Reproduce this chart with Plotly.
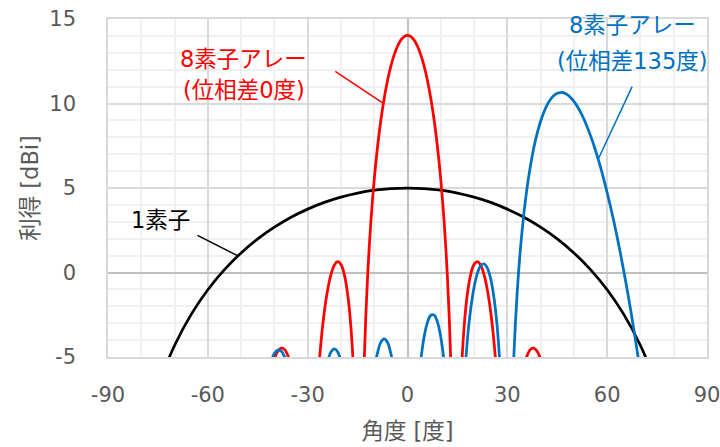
import plotly.graph_objects as go

# Angle grids (degrees)
angle_single = [-85, -80, -75, -70, -65, -60, -55, -50, -45, -40, -35, -30, -25, -20, -15, -10, -5,
                0, 5, 10, 15, 20, 25, 30, 35, 40, 45, 50, 55, 60, 65, 70, 75, 80, 85]
angle_array0 = list(range(-45, 46))
angle_array135 = list(range(-45, 76))

# Gain [dBi] of a single element
gain_single = [-16.19, -10.21, -6.74, -4.32, -2.48, -1.02, 0.17, 1.16, 1.99, 2.68, 3.27, 3.75, 4.15, 4.46, 4.70, 4.87, 4.97,
               5.00, 4.97, 4.87, 4.70, 4.46, 4.15, 3.75, 3.27, 2.68, 1.99, 1.16, 0.17, -1.02, -2.48, -4.32, -6.74, -10.21, -16.19]

# Gain [dBi] of the 8-element array, phase difference 0 deg (-45 .. 45)
gain_array0 = [
    -11.9, -9.72, -8.07, -6.79, -5.82, -5.12, -4.67, -4.48, -4.54, -4.89,
    -5.61, -6.77, -8.60, -11.5, -17.1, -30.0, -16.4, -10.2, -6.60, -4.13,
    -2.34, -1.04, -0.13, 0.43, 0.64, 0.48, -0.11, -1.26, -3.24, -6.82,
    -15.4, -15.6, -5.23, -0.29, 3.02, 5.49, 7.44, 9.02, 10.31, 11.36,
    12.21, 12.88, 13.39, 13.75, 13.96, 14.03, 13.96, 13.75, 13.39, 12.88,
    12.21, 11.36, 10.31, 9.02, 7.44, 5.49, 3.02, -0.29, -5.23, -15.6,
    -15.4, -6.82, -3.24, -1.26, -0.11, 0.48, 0.64, 0.43, -0.13, -1.04,
    -2.34, -4.13, -6.60, -10.2, -16.4, -30.0, -17.1, -11.5, -8.60, -6.77,
    -5.61, -4.89, -4.54, -4.48, -4.67, -5.12, -5.82, -6.79, -8.07, -9.72,
    -11.9,
]

# Gain [dBi] of the 8-element array, phase difference 135 deg (-45 .. 75)
gain_array135 = [
    -10.37, -8.44, -7.02, -5.99, -5.25, -4.80, -4.59, -4.64, -4.96, -5.57,
    -6.55, -7.98, -10.08, -13.3, -19.1, -30.0, -19.0, -13.1, -9.83, -7.68,
    -6.22, -5.26, -4.71, -4.52, -4.69, -5.25, -6.25, -7.84, -10.29, -14.35,
    -23.5, -24.2, -14.4, -10.15, -7.54, -5.84, -4.74, -4.12, -3.93, -4.14,
    -4.80, -5.99, -7.89, -10.98, -16.7, -30.0, -16.5, -10.58, -7.30, -5.19,
    -3.80, -2.95, -2.53, -2.52, -2.93, -3.82, -5.31, -7.69, -11.76, -21.3,
    -20.3, -10.99, -6.68, -3.98, -2.14, -0.87, -0.05, 0.41, 0.51, 0.26,
    -0.38, -1.51, -3.32, -6.25, -11.77, -30.0, -11.04, -4.77, -1.06, 1.55,
    3.54, 5.11, 6.38, 7.42, 8.26, 8.95, 9.50, 9.93, 10.25, 10.47,
    10.60, 10.65, 10.63, 10.53, 10.36, 10.13, 9.84, 9.49, 9.08, 8.61,
    8.10, 7.53, 6.90, 6.23, 5.50, 4.73, 3.90, 3.03, 2.10, 1.12,
    0.08, -1.01, -2.15, -3.36, -4.63, -5.96, -7.37, -8.85, -10.43, -12.1,
    -13.8,
]

x_ticks = [-90, -60, -30, 0, 30, 60, 90]
x_tick_text = ["-90", "-60", "-30", "0", "30", "60", "90"]
y_ticks = [-5, 0, 5, 10, 15]
y_tick_text = ["-5", "0", "5", "10", "15"]

FONT = "DejaVu Sans, Noto Sans CJK JP, sans-serif"
RED = "#FF0000"
BLUE = "#0070C0"
BLACK = "#000000"
GREY_TEXT = "#595959"

fig = go.Figure()
fig.add_trace(go.Scatter(x=angle_single, y=gain_single, mode="lines", name="1素子",
                         line=dict(color=BLACK, width=2.75, shape="spline", smoothing=1.0)))
fig.add_trace(go.Scatter(x=angle_array0, y=gain_array0, mode="lines", name="8素子アレー(位相差0度)",
                         line=dict(color=RED, width=2.75, shape="spline", smoothing=1.0)))
fig.add_trace(go.Scatter(x=angle_array135, y=gain_array135, mode="lines", name="8素子アレー(位相差135度)",
                         line=dict(color=BLUE, width=2.75, shape="spline", smoothing=1.0)))

# Leader lines from the labels to their curves
leaders = [
    (-21.7, 11.9, -7.6, 10.05, RED),
    (67.5, 11.0, 57.3, 6.7, BLUE),
    (-63.1, 2.2, -51.1, 1.0, BLACK),
]
for x0, y0, x1, y1, c in leaders:
    fig.add_shape(type="line", xref="x", yref="y", x0=x0, y0=y0, x1=x1, y1=y1,
                  line=dict(color=c, width=1.5))

labels = [
    (-49.3, 12.65, "8素子アレー", RED),
    (-49.0, 10.81, "(位相差0度)", RED),
    (67.5, 14.62, "8素子アレー", BLUE),
    (67.6, 12.52, "(位相差135度)", BLUE),
    (-74.1, 3.13, "1素子", BLACK),
]
for x, y, t, c in labels:
    fig.add_annotation(x=x, y=y, xref="x", yref="y", text=t, showarrow=False,
                       font=dict(family=FONT, size=22.5, color=c), xanchor="center", yanchor="middle")

fig.update_layout(
    width=720, height=447,
    margin=dict(l=108, r=13, t=19, b=90),
    paper_bgcolor="white", plot_bgcolor="white",
    showlegend=False,
    font=dict(family=FONT, size=21, color=GREY_TEXT),
)
fig.update_xaxes(
    range=[-90, 90], tickvals=x_ticks, ticktext=x_tick_text, ticks="", ticklabelstandoff=18,
    ticklabeloverflow="allow",
    tickfont=dict(family=FONT, size=21, color=GREY_TEXT),
    showgrid=True, gridcolor="#D9D9D9", gridwidth=1.5,
    minor=dict(dtick=10, showgrid=True, gridcolor="#F0F0F0", gridwidth=1.5),
    zeroline=True, zerolinecolor="#BFBFBF", zerolinewidth=1.5,
    showline=True, mirror=True, linecolor="#D9D9D9", linewidth=1.5,
    title=dict(text="角度 [度]", font=dict(family=FONT, size=22.5, color=GREY_TEXT), standoff=17),
    automargin=False,
)
fig.update_yaxes(
    range=[-5, 15], tickvals=y_ticks, ticktext=y_tick_text, ticks="", ticklabelstandoff=26,
    ticklabeloverflow="allow",
    tickfont=dict(family=FONT, size=21, color=GREY_TEXT),
    showgrid=True, gridcolor="#D9D9D9", gridwidth=1.5,
    minor=dict(dtick=1, showgrid=True, gridcolor="#F0F0F0", gridwidth=1.5),
    zeroline=True, zerolinecolor="#BFBFBF", zerolinewidth=1.5,
    showline=True, mirror=True, linecolor="#D9D9D9", linewidth=1.5,
    title=dict(text="利得 [dBi]", font=dict(family=FONT, size=22.5, color=GREY_TEXT), standoff=4),
    automargin=False,
)

fig.write_html("out.html")
